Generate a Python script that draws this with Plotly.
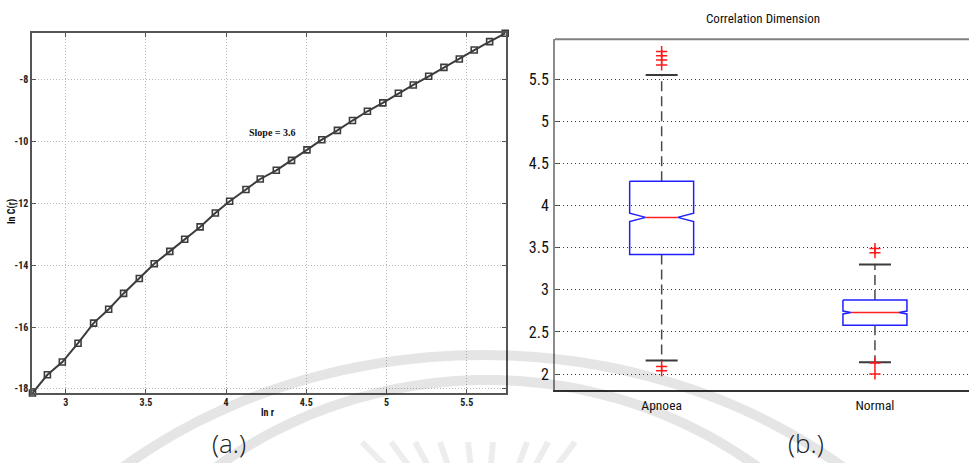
import math
import plotly.graph_objects as go

# ---------------- data ----------------
# (a) correlation sum: ln C(r) against ln r
ln_r = [2.793, 2.886, 2.979, 3.077, 3.174, 3.268, 3.361, 3.459, 3.552, 3.649,
        3.742, 3.838, 3.933, 4.022, 4.124, 4.213, 4.313, 4.408, 4.504, 4.597,
        4.694, 4.788, 4.881, 4.977, 5.074, 5.167, 5.263, 5.358, 5.454, 5.547,
        5.643, 5.740]
ln_c = [-18.13, -17.54, -17.13, -16.52, -15.87, -15.42, -14.91, -14.43, -13.95, -13.55,
        -13.16, -12.76, -12.31, -11.93, -11.55, -11.21, -10.93, -10.61, -10.27, -9.94,
        -9.64, -9.32, -9.02, -8.75, -8.44, -8.17, -7.89, -7.60, -7.33, -7.04,
        -6.77, -6.50]
slope_text = "Slope = 3.6"
slope_pos = (4.29, -9.70)
x_ticks_a = [3, 3.5, 4, 4.5, 5, 5.5]
y_ticks_a = [-18, -16, -14, -12, -10, -8]

# (b) correlation dimension box plot statistics
groups = ["Apnoea", "Normal"]
q1 = [3.42, 2.58]
median = [3.86, 2.73]
q3 = [4.29, 2.88]
notch_lo = [3.81, 2.713]
notch_hi = [3.91, 2.747]
whisker_lo = [2.16, 2.14]
whisker_hi = [5.55, 3.30]
outliers = [
    [5.83, 5.78, 5.73, 5.67, 2.09, 2.04],   # Apnoea
    [3.49, 3.44, 2.13, 2.00],               # Normal
]
y_ticks_b = [2, 2.5, 3, 3.5, 4, 4.5, 5, 5.5]

# ---------------- layout helpers ----------------
W, H = 969, 463


def px_x(v):
    return v / W


def px_y(v):
    return 1 - v / H


NARROW = "Roboto Condensed, DejaVu Sans Condensed, sans-serif"


def narrow_font(size, weight="normal", color="#111"):
    return dict(family=NARROW, size=size, color=color, weight=weight)


fig = go.Figure()

# ---------------- (a) line plot ----------------
fig.add_trace(go.Scatter(
    x=ln_r, y=ln_c, mode="lines+markers",
    line=dict(color="#3c3c3c", width=2),
    marker=dict(symbol="square-open", size=6, color="#3c3c3c", line=dict(width=1.6)),
    cliponaxis=False, showlegend=False, xaxis="x", yaxis="y",
))

# ---------------- (b) notched box plot ----------------
box_half = 0.15
cap_half = 0.075
notch_frac = [0.5, 0.75]
for i, name in enumerate(groups):
    p = i + 1
    hw = box_half
    nw = hw * notch_frac[i]
    bx = [p - hw, p + hw, p + hw, p + nw, p + hw, p + hw, p - hw, p - hw, p - nw, p - hw, p - hw]
    by = [q3[i], q3[i], notch_hi[i], median[i], notch_lo[i], q1[i], q1[i], notch_lo[i], median[i], notch_hi[i], q3[i]]
    # whiskers (dashed)
    fig.add_trace(go.Scatter(
        x=[p, p, None, p, p], y=[q3[i], whisker_hi[i], None, q1[i], whisker_lo[i]],
        mode="lines", line=dict(color="#4a4a4a", width=1.5, dash="10px,5px"),
        showlegend=False, xaxis="x2", yaxis="y2", hoverinfo="skip",
    ))
    # whisker caps
    fig.add_trace(go.Scatter(
        x=[p - cap_half, p + cap_half, None, p - cap_half, p + cap_half],
        y=[whisker_hi[i], whisker_hi[i], None, whisker_lo[i], whisker_lo[i]],
        mode="lines", line=dict(color="#3a3a3a", width=2),
        showlegend=False, xaxis="x2", yaxis="y2", hoverinfo="skip",
    ))
    # box outline with notch
    fig.add_trace(go.Scatter(
        x=bx, y=by, mode="lines", line=dict(color="#1f1fff", width=1.5),
        showlegend=False, xaxis="x2", yaxis="y2", name=name,
    ))
    # median
    fig.add_trace(go.Scatter(
        x=[p - nw, p + nw], y=[median[i], median[i]], mode="lines",
        line=dict(color="#ff2020", width=1.5),
        showlegend=False, xaxis="x2", yaxis="y2", hoverinfo="skip",
    ))
    # outliers
    fig.add_trace(go.Scatter(
        x=[p] * len(outliers[i]), y=outliers[i], mode="markers",
        marker=dict(symbol="cross-thin", size=8, line=dict(color="#ff1a1a", width=1.5)),
        showlegend=False, xaxis="x2", yaxis="y2",
    ))

# ---------------- faint seal watermark ----------------
shapes = []


def arc_path(cx, cy, rx, ry, a0, a1, n=80):
    pts = []
    for k in range(n + 1):
        a = a0 + (a1 - a0) * k / n
        x = cx + rx * math.cos(a)
        y = cy - ry * math.sin(a)
        pts.append(f"{px_x(x):.5f},{px_y(y):.5f}")
    return "M " + " L ".join(pts)


for cx, cy, rx, ry in [(483, 800, 542, 445), (487, 800, 444, 420)]:
    shapes.append(dict(
        type="path", xref="paper", yref="paper", layer="above",
        path=arc_path(cx, cy, rx, ry, math.radians(35), math.radians(145)),
        line=dict(color="rgba(0,0,0,0.10)", width=10),
    ))

ray_tops = [362, 391, 415, 440, 468, 493, 527, 548, 575]
rcx, rcy = 482, 565
for tx in ray_tops:
    ty = 442
    dx, dy = tx - rcx, ty - rcy
    L = math.hypot(dx, dy)
    ux, uy = dx / L, dy / L
    bx0, by0 = rcx + ux * (L - 60), rcy + uy * (L - 60)
    shapes.append(dict(
        type="line", xref="paper", yref="paper", layer="above",
        x0=px_x(tx), y0=px_y(ty), x1=px_x(bx0), y1=px_y(by0),
        line=dict(color="rgba(0,0,0,0.07)", width=6),
    ))

# ---------------- annotations ----------------
label_font = dict(family="Open Sans Light, Open Sans, sans-serif", size=26, color="#222")
annotations = [
    dict(text=slope_text, x=slope_pos[0], y=slope_pos[1], xref="x", yref="y",
         showarrow=False, font=dict(family="Liberation Serif, serif", size=10, color="#111",
                                    weight="bold"),
         xanchor="center", yanchor="middle"),
    dict(text="ln C(r)", x=px_x(12), y=px_y(212), xref="paper", yref="paper",
         showarrow=False, textangle=-90, xanchor="center", yanchor="middle",
         font=narrow_font(10, "bold")),
    dict(text="ln r", x=px_x(268), y=px_y(412), xref="paper", yref="paper",
         showarrow=False, xanchor="center", yanchor="middle",
         font=narrow_font(10, "bold")),
    dict(text="Correlation Dimension", x=px_x(763), y=px_y(18), xref="paper", yref="paper",
         showarrow=False, xanchor="center", yanchor="middle", font=narrow_font(13)),
    dict(text="(a.)", x=px_x(229), y=px_y(443), xref="paper", yref="paper",
         showarrow=False, xanchor="center", yanchor="middle", font=label_font),
    dict(text="(b.)", x=px_x(806), y=px_y(443), xref="paper", yref="paper",
         showarrow=False, xanchor="center", yanchor="middle", font=label_font),
]

tick_font_a = narrow_font(10, "bold", "#222")

fig.update_layout(
    width=W, height=H,
    margin=dict(l=0, r=0, t=0, b=0),
    paper_bgcolor="white", plot_bgcolor="white",
    showlegend=False,
    xaxis=dict(
        domain=[px_x(32), px_x(506)], range=[2.79, 5.745], anchor="y",
        tickvals=x_ticks_a, ticktext=[f"{v:g}" for v in x_ticks_a],
        showgrid=True, gridcolor="#b8b8b8", griddash="1px,2px", gridwidth=1,
        showline=True, linecolor="#555", linewidth=1.5, mirror="ticks",
        ticks="inside", ticklen=4, tickcolor="#555",
        tickfont=tick_font_a, zeroline=False, ticklabelstandoff=-1,
    ),
    yaxis=dict(
        domain=[px_y(393), px_y(33)], range=[-18.13, -6.49], anchor="x",
        tickvals=y_ticks_a, ticktext=[f"{v:g}" for v in y_ticks_a],
        showgrid=True, gridcolor="#b8b8b8", griddash="1px,2px", gridwidth=1,
        showline=True, linecolor="#555", linewidth=1.5, mirror="ticks",
        ticks="inside", ticklen=4, tickcolor="#555",
        tickfont=tick_font_a, zeroline=False, ticklabelstandoff=0,
    ),
    xaxis2=dict(
        domain=[px_x(555), 1.0], range=[0.5, 0.5 + (969 - 555) / 213.3], anchor="y2",
        tickvals=[1, 2], ticktext=groups, showgrid=False,
        showline=True, linecolor="#333", linewidth=1.5, mirror=False,
        ticks="", tickfont=narrow_font(13.5),
        zeroline=False, ticklabelstandoff=2,
    ),
    yaxis2=dict(
        domain=[px_y(390), px_y(39.3)], range=[1.81, 5.975], anchor="x2",
        tickvals=y_ticks_b, ticktext=[f"{v:g}" for v in y_ticks_b],
        showgrid=True, gridcolor="#333", griddash="1px,3px", gridwidth=1,
        showline=True, linecolor="#8a8a8a", linewidth=2, mirror=False,
        ticks="inside", ticklen=4, tickcolor="#555",
        tickfont=narrow_font(16),
        zeroline=False, ticklabelstandoff=1,
    ),
    shapes=shapes + [
        # top border of the box-plot axes
        dict(type="line", xref="paper", yref="paper", layer="above",
             x0=px_x(555), x1=1.0, y0=px_y(39.3), y1=px_y(39.3),
             line=dict(color="#808080", width=2)),
    ],
    annotations=annotations,
)

fig.write_html("out.html")
